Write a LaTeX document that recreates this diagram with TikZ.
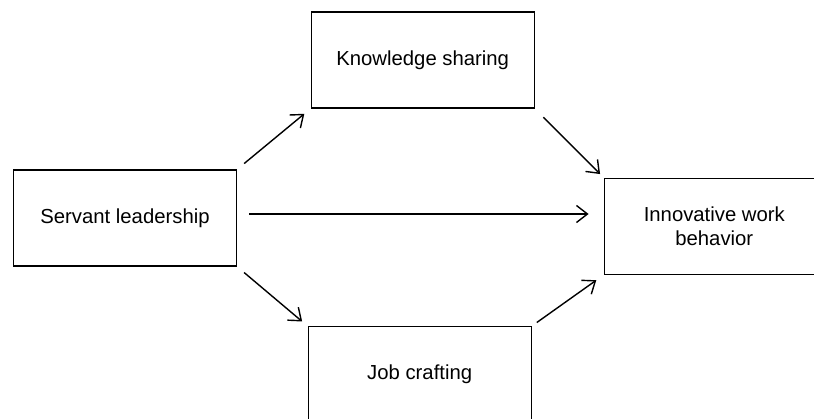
\documentclass[tikz,border=0pt]{standalone}
\usepackage{fontspec}
\setmainfont{Liberation Sans}
\usetikzlibrary{arrows.meta}
\begin{document}
\begin{tikzpicture}[x=1pt, y=-1pt,
    box/.style={draw, line width=1.4pt, minimum width=223pt, minimum height=96pt,
      inner sep=0pt, align=center, font=\fontsize{20.3}{23.5}\selectfont},
    arr/.style={line width=1.4pt, -{Straight Barb[length=11pt, width=17pt, line width=1.4pt]}}]
    \useasboundingbox (0, 0) rectangle (814, 419);
    \node[box] (servant) at (125, 218) {Servant leadership};
    \node[box] (know) at (422.7, 60) {Knowledge sharing};
    \node[box] (job) at (419.7, 374.7) {Job crafting};
    \node[box, minimum width=220pt] (innov) at (714.3, 226.3) {Innovative work\\behavior};
    \draw[arr, shorten <=9pt, shorten >=8pt] (servant.north east) -- (know.south west);
    \draw[arr, shorten <=12pt, shorten >=5pt] (know.south east) -- (innov.north west);
    \draw[arr, shorten <=12pt, shorten >=15pt] ([yshift=4pt]servant.east) -- ([yshift=4pt]servant.east -| innov.west);
    \draw[arr, shorten <=9pt, shorten >=7pt] (servant.south east) -- (job.north west);
    \draw[arr, shorten <=6pt, shorten >=9pt] (job.north east) -- (innov.south west);
  \end{tikzpicture}
\end{document}
